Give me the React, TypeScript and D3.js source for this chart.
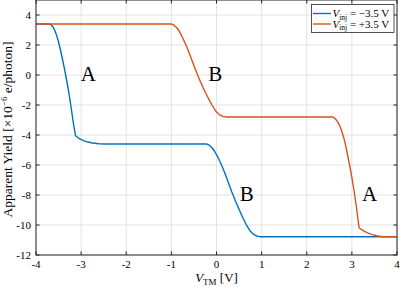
import React from 'react';
import * as d3 from 'd3';

const xTicks = [-4, -3, -2, -1, 0, 1, 2, 3, 4];
const yTicks = [-12, -10, -8, -6, -4, -2, 0, 2, 4];

const blueV = [-4.0, -3.7, -3.66, -3.62, -3.58, -3.54, -3.5, -3.46, -3.42, -3.38, -3.34, -3.3, -3.26, -3.22, -3.18, -3.15, -3.125, -3.05, -2.95, -2.85, -2.75, -2.6, -2.45, -0.22, -0.16, -0.1, -0.04, 0.02, 0.1, 0.18, 0.26, 0.34, 0.42, 0.5, 0.58, 0.66, 0.74, 0.82, 0.9, 0.98, 4.0];
const blueY = [3.4, 3.4, 3.33, 3.18, 2.95, 2.62, 2.2, 1.7, 1.15, 0.58, -0.05, -0.7, -1.4, -2.2, -3.05, -3.6, -4.05, -4.22, -4.38, -4.47, -4.53, -4.58, -4.6, -4.6, -4.68, -4.85, -5.1, -5.42, -5.92, -6.5, -7.15, -7.8, -8.4, -8.95, -9.5, -9.98, -10.38, -10.62, -10.74, -10.78, -10.78];

const orangeV = [-4.0, -1.0, -0.94, -0.88, -0.82, -0.74, -0.66, -0.58, -0.5, -0.42, -0.34, -0.26, -0.18, -0.1, -0.02, 0.06, 0.14, 0.22, 2.58, 2.62, 2.66, 2.7, 2.74, 2.78, 2.82, 2.86, 2.9, 2.94, 2.98, 3.02, 3.06, 3.1, 3.13, 3.16, 3.25, 3.35, 3.45, 3.55, 3.68, 4.0];
const orangeY = [3.4, 3.4, 3.32, 3.15, 2.9, 2.42, 1.88, 1.26, 0.62, 0.0, -0.55, -1.08, -1.55, -2.0, -2.4, -2.64, -2.76, -2.8, -2.8, -2.88, -3.02, -3.2, -3.45, -3.78, -4.18, -4.68, -5.25, -5.85, -6.5, -7.2, -7.95, -8.8, -9.5, -10.2, -10.38, -10.52, -10.64, -10.72, -10.78, -10.78];

const annText = ['A', 'B', 'B', 'A'];
const annV = [-2.84, -0.03, 0.67, 3.39];
const annY = [-0.4, -0.4, -8.38, -8.38];

const legendLabels = ['= \u22123.5 V', '= +3.5 V'];
const colors = ['#0072BD', '#D95319'];

const W = 401;
const H = 287;
const FONT = "'Liberation Serif', 'DejaVu Serif', serif";

export default function App() {
  const x = d3.scaleLinear().domain([-4, 4]).range([36, 397]);
  const y = d3.scaleLinear().domain([-12, 5]).range([255, 0]);
  const left = x(-4), right = x(4), top = y(5), bottom = y(-12);
  const line = d3.line<[number, number]>().x(d => x(d[0])).y(d => y(d[1]));
  const blue: [number, number][] = blueV.map((v, i) => [v, blueY[i]]);
  const orange: [number, number][] = orangeV.map((v, i) => [v, orangeY[i]]);
  const tl = 3.6;
  const axisColor = '#262626';

  return (
    <svg width={W} height={H} style={{ position: 'absolute', left: 0, top: 0, background: '#fff', fontFamily: FONT }}>
      <rect x={0} y={0} width={W} height={H} fill="#fff" />
      {xTicks.map(t => (
        <line key={'gx' + t} x1={x(t)} x2={x(t)} y1={top} y2={bottom} stroke="#e3e3e3" strokeWidth={1} />
      ))}
      {yTicks.map(t => (
        <line key={'gy' + t} x1={left} x2={right} y1={y(t)} y2={y(t)} stroke="#e3e3e3" strokeWidth={1} />
      ))}
      <path d={line(blue) || ''} fill="none" stroke={colors[0]} strokeWidth={1.4} strokeLinejoin="round" />
      <path d={line(orange) || ''} fill="none" stroke={colors[1]} strokeWidth={1.4} strokeLinejoin="round" />
      {annText.map((t, i) => (
        <text key={'a' + i} x={x(annV[i])} y={y(annY[i])} textAnchor="middle" fontSize={21} fill="#000" style={{ fontFamily: FONT }}>{t}</text>
      ))}
      <rect x={left} y={top} width={right - left} height={bottom - top} fill="none" stroke={axisColor} strokeWidth={1} />
      {xTicks.map(t => (
        <g key={'tx' + t}>
          <line x1={x(t)} x2={x(t)} y1={bottom} y2={bottom - tl} stroke={axisColor} />
          <line x1={x(t)} x2={x(t)} y1={top} y2={top + tl} stroke={axisColor} />
          <text x={x(t)} y={bottom + 13} textAnchor="middle" fontSize={11} fill="#000" style={{ fontFamily: FONT }}>{String(t)}</text>
        </g>
      ))}
      {yTicks.map(t => (
        <g key={'ty' + t}>
          <line x1={left} x2={left + tl} y1={y(t)} y2={y(t)} stroke={axisColor} />
          <line x1={right} x2={right - tl} y1={y(t)} y2={y(t)} stroke={axisColor} />
          <text x={left - 5} y={y(t) + 4} textAnchor="end" fontSize={11} fill="#000" style={{ fontFamily: FONT }}>{String(t)}</text>
        </g>
      ))}
      <text x={(left + right) / 2} y={282} textAnchor="middle" fontSize={13} fill="#000" style={{ fontFamily: FONT }}>
        <tspan fontStyle="italic">V</tspan>
        <tspan fontSize={9} dy={3}>TM</tspan>
        <tspan dy={-3}> [V]</tspan>
      </text>
      <text transform={`translate(12, ${(top + bottom) / 2 + 2}) rotate(-90)`} textAnchor="middle" fontSize={13.5} fill="#000" style={{ fontFamily: FONT }}>
        <tspan>Apparent Yield [×10</tspan>
        <tspan fontSize={9} dy={-5}>{'\u22126'}</tspan>
        <tspan dy={5}> e/photon]</tspan>
      </text>
      <rect x={311.5} y={4.5} width={82.5} height={28} fill="#fff" stroke={axisColor} strokeWidth={0.8} />
      {legendLabels.map((lab, i) => (
        <g key={'lg' + i}>
          <line x1={313} x2={331} y1={13.5 + i * 10.5} y2={13.5 + i * 10.5} stroke={colors[i]} strokeWidth={1.4} />
          <text x={332.5} y={17 + i * 10.5} fontSize={11} fill="#000" style={{ fontFamily: FONT }}>
            <tspan fontStyle="italic">V</tspan>
            <tspan fontSize={7.5} dy={2.5}>inj</tspan>
            <tspan dy={-2.5}> {lab}</tspan>
          </text>
        </g>
      ))}
    </svg>
  );
}
